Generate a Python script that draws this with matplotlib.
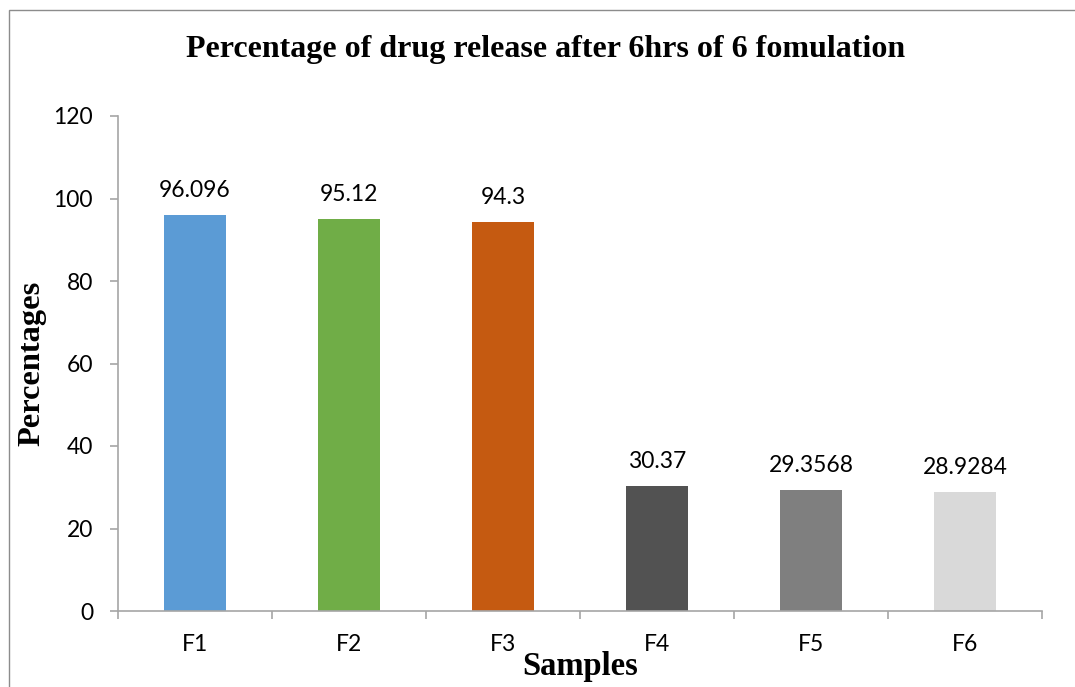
import matplotlib
matplotlib.use("Agg")
import matplotlib.pyplot as plt
from matplotlib.patches import Rectangle
import numpy as np

categories = ["F1", "F2", "F3", "F4", "F5", "F6"]
values = [96.096, 95.12, 94.3, 30.37, 29.3568, 28.9284]
value_labels = ["96.096", "95.12", "94.3", "30.37", "29.3568", "28.9284"]
colors = ["#5B9BD5", "#70AD47", "#C55A11", "#525252", "#7F7F7F", "#D9D9D9"]
yticks = [0, 20, 40, 60, 80, 100, 120]

W, H = 1075, 687
fig = plt.figure(figsize=(W / 100, H / 100), dpi=100)

# outer border (cut at right and bottom)
fig.patches.append(Rectangle((9 / W, -0.05), 1.2, (H - 10) / H + 0.05, transform=fig.transFigure,
                             fill=False, edgecolor="#8c8c8c", linewidth=1.0))

ax = fig.add_axes([118 / W, 1 - 611 / H, (1042 - 118) / W, (611 - 116) / H])
x = np.arange(len(categories))
ax.bar(x, values, width=0.40, color=colors, zorder=2)

ax.set_xlim(-0.5, len(categories) - 0.5)
ax.set_ylim(0, 120)
ax.set_yticks(yticks)
ax.set_yticklabels([str(t) for t in yticks], fontfamily="Lato", fontsize=16.5)
ax.set_xticks(x)
ax.set_xticklabels(categories, fontfamily="Lato", fontsize=16.5)
ax.tick_params(axis="x", length=0, pad=16.5)
ax.set_xticks(np.arange(-0.5, len(categories)), minor=True)
ax.tick_params(axis="x", which="minor", length=6, color="#a6a6a6", width=1.2, direction="out")
ax.tick_params(axis="y", length=6, color="#a6a6a6", width=1.2, pad=12)

for s in ["top", "right"]:
    ax.spines[s].set_visible(False)
for s in ["left", "bottom"]:
    ax.spines[s].set_color("#a6a6a6")
    ax.spines[s].set_linewidth(1.2)

for xi, v, lab in zip(x, values, value_labels):
    ax.annotate(lab, (xi, v), xytext=(0, 10), textcoords="offset points",
                ha="center", va="bottom", fontfamily="Lato", fontsize=16.5)

fig.text(546 / W, 1 - 50 / H, "Percentage of drug release after 6hrs of 6 fomulation",
         ha="center", va="center", fontfamily="Liberation Serif", fontweight="bold", fontsize=23)
fig.text(32 / W, 1 - 363 / H, "Percentages", rotation=90, ha="center", va="center",
         fontfamily="Liberation Serif", fontweight="bold", fontsize=23.3)
fig.text(580 / W, 1 - 667 / H, "Samples", ha="center", va="center",
         fontfamily="Liberation Serif", fontweight="bold", fontsize=23.5)

fig.savefig("out.png", dpi=100)
